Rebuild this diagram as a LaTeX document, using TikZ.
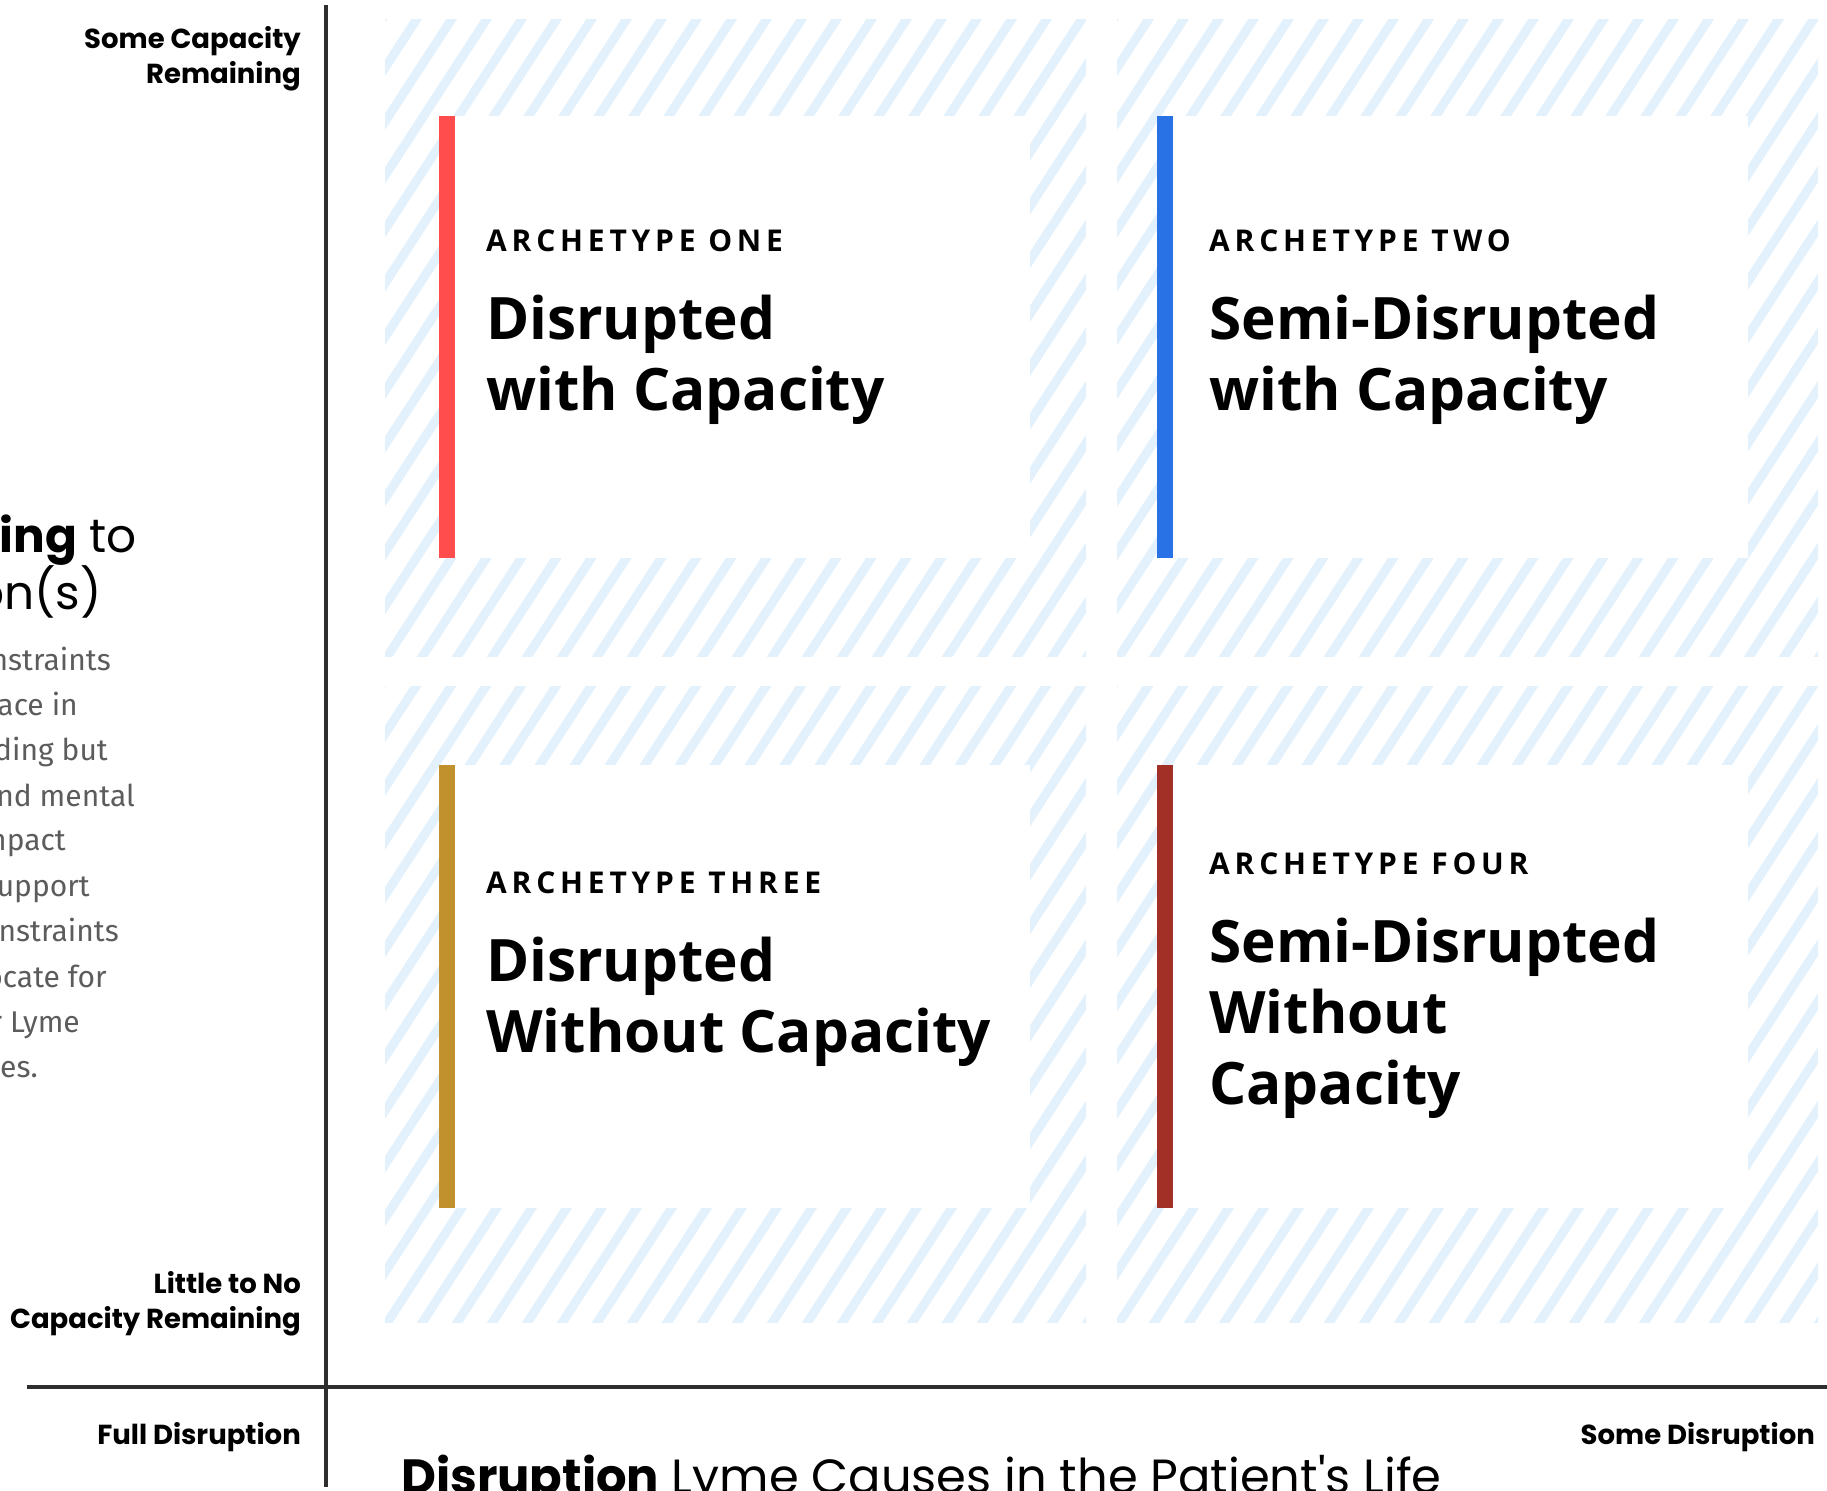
\documentclass[tikz,border=0pt]{standalone}
\usepackage{fontspec}
\setmainfont{Fira Sans}
\newfontfamily\axisfont{Poppins}
\newfontfamily\cardfont{Open Sans}
\newfontfamily\tagfont[LetterSpace=16]{Open Sans}

\definecolor{hatchblue}{HTML}{E2F1FC}
\definecolor{axisgray}{HTML}{2E2E2E}
\definecolor{textgray}{HTML}{5C5C5C}
\definecolor{barred}{HTML}{FF4D4D}
\definecolor{barblue}{HTML}{2872E6}
\definecolor{bargold}{HTML}{C1912E}
\definecolor{barrust}{HTML}{A33026}

\begin{document}
\begin{tikzpicture}[x=1pt, y=-1pt,
    axisline/.style={draw=axisgray, line width=4pt},
    hatchline/.style={draw=hatchblue, line width=9pt},
    axislabel/.style={inner sep=0pt, anchor=east, align=right,
        font=\axisfont\bfseries\fontsize{27.5}{35}\selectfont},
    bodytext/.style={inner sep=0pt, anchor=mid east, text=textgray,
        font=\fontsize{30}{45}\selectfont},
    headtext/.style={inner sep=0pt, anchor=base east,
        font=\axisfont\fontsize{47}{57}\selectfont},
    tagtext/.style={inner sep=0pt, anchor=base west,
        font=\tagfont\bfseries\fontsize{30}{34}\selectfont},
    titletext/.style={inner sep=0pt, anchor=base west,
        font=\cardfont\bfseries\fontsize{58.5}{71}\selectfont}]

    \useasboundingbox (0, 0) rectangle (1827, 1490);
    \clip (0, 0) rectangle (1827, 1490);

    % hatched panels
    \foreach \px/\py in {385/20, 1117/20, 385/686, 1117/686}{
        \begin{scope}
            \clip (\px, \py) rectangle ++(701, 636);
            \foreach \k in {0,...,32}
                \draw[hatchline] (\px-420+\k*35, \py+640) -- ++(420, -646);
        \end{scope}
    }

    % cards
    \fill[white] (439, 116) rectangle (1030, 558);
    \fill[white] (1157, 116) rectangle (1748, 558);
    \fill[white] (439, 765) rectangle (1030, 1208);
    \fill[white] (1157, 765) rectangle (1748, 1208);
        \fill[barred] (439, 116) rectangle (455, 558);
        \fill[barblue] (1157, 116) rectangle (1173, 558);
        \fill[bargold] (439, 765) rectangle (455, 1208);
        \fill[barrust] (1157, 765) rectangle (1173, 1208);

    \node[tagtext] (tagone) at (486, 251) {ARCHETYPE ONE};
    \node[titletext] (oneA) at (486, 339) {Disrupted};
    \node[titletext] (oneB) at (486, 410) {with Capacity};

    \node[tagtext] (tagtwo) at (1209, 251) {ARCHETYPE TWO};
    \node[titletext] (twoA) at (1209, 339) {Semi-Disrupted};
    \node[titletext] (twoB) at (1209, 410) {with Capacity};

    \node[tagtext] (tagthree) at (486, 893) {ARCHETYPE THREE};
    \node[titletext] (threeA) at (486, 981) {Disrupted};
    \node[titletext] (threeB) at (486, 1052) {Without Capacity};

    \node[tagtext] (tagfour) at (1209, 874) {ARCHETYPE FOUR};
    \node[titletext] (fourA) at (1209, 962) {Semi-Disrupted};
    \node[titletext] (fourB) at (1209, 1033) {Without};
    \node[titletext] (fourC) at (1209, 1104) {Capacity};

    % axes
    \draw[axisline] (326, 5) -- (326, 1487);
    \draw[axisline] (27, 1387) -- (1827, 1387);

    \node[axislabel] (captop) at (301, 59) {Some Capacity\\Remaining};
    \node[axislabel] (caplow) at (301, 1304) {Little to No\\Capacity Remaining};
    \node[axislabel] (disfull) at (301, 1437) {Full Disruption};
    \node[axislabel] (dissome) at (1815, 1437) {Some Disruption};

    \node[inner sep=0pt, anchor=base west, font=\axisfont\fontsize{48}{55}\selectfont]
        (xtitle) at (401, 1493) {\textbf{Disruption} Lyme Causes in the Patient's Life};

    % left column, cut off
    \node[headtext] (yheadA) at (137, 552) {\textbf{ning} to};
    \node[headtext] (yheadB) at (102, 609) {on(s)};

    \foreach \txt/\xr/\yc [count=\n] in {nstraints/111/668, face in/78/713,
        ding but/108/758, nd mental/135/804, npact/66/848, upport/90/894,
        nstraints/119/939, ocate for/107/985, r Lyme/80/1030, es./38/1075}
        \node[bodytext] (body\n) at (\xr, \yc) {\txt};

\end{tikzpicture}
\end{document}
